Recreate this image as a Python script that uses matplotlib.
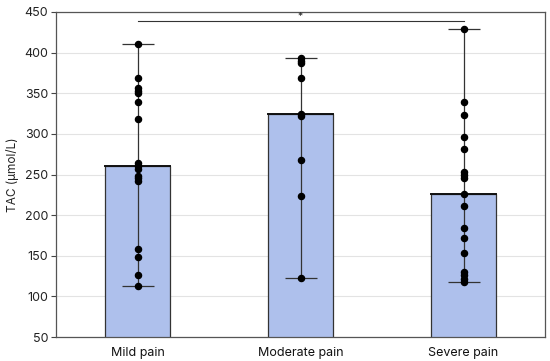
import matplotlib
matplotlib.use("Agg")
import matplotlib.pyplot as plt
import numpy as np

categories = ["Mild pain", "Moderate pain", "Severe pain"]
bar_heights = [261, 325, 226]
mild_points = [411, 369, 356, 353, 350.5, 339, 318, 264, 260, 256.5, 248, 245.5, 242, 158, 149, 126, 112.6]
moderate_points = [393, 390, 387, 369, 325, 322, 268, 224, 123]
severe_points = [429, 339, 323, 296, 282, 253, 249, 245.5, 226, 211.5, 184, 172, 153, 130, 126, 121.6, 117.5]
groups = [mild_points, moderate_points, severe_points]
y_ticks = [50, 100, 150, 200, 250, 300, 350, 400, 450]
sig_label = "*"

plt.rcParams['font.family'] = ['Inter', 'DejaVu Sans']

fig = plt.figure(figsize=(5.5, 3.61), dpi=100)
ax = fig.add_axes([56/550, 1-337/361, (545-56)/550, (337-12)/361])

x = np.arange(len(categories))
ax.bar(x, bar_heights, width=0.4, color="#aec0ec", edgecolor="#333333", linewidth=0.9, zorder=2)
for xi, h in zip(x, bar_heights):
    ax.plot([xi-0.2, xi+0.2], [h, h], color="#111111", lw=1.4, zorder=3)

for xi, pts in zip(x, groups):
    lo, hi = min(pts), max(pts)
    ax.errorbar([xi], [(lo+hi)/2], yerr=[[(hi-lo)/2], [(hi-lo)/2]], fmt="none",
                ecolor="#333333", elinewidth=0.9, capsize=11.5, capthick=0.9, zorder=4)
    ax.plot([xi]*len(pts), pts, "o", color="black", markersize=4.4, zorder=5)

ax.set_xlim(-0.5, 2.5)
ax.set_ylim(50, 450)
ax.set_yticks(y_ticks)
ax.set_xticks(x)
ax.set_xticklabels(categories, fontsize=9, color="#111111")
ax.tick_params(axis="x", length=0, pad=7)
ax.tick_params(axis="y", labelsize=9, length=3.5, width=0.8, color="#444444", labelcolor="#222222", pad=2)
ax.yaxis.grid(True, color="#e3e3e3", linewidth=0.8, zorder=0)
ax.set_axisbelow(True)
for s in ax.spines.values():
    s.set_color("#555555")
    s.set_linewidth(0.9)
ax.set_ylabel("TAC (μmol/L)", fontsize=8.5, color="#222222", labelpad=4)

# significance bracket
ax.plot([0, 2], [438.5, 438.5], color="#333333", lw=0.8, zorder=6, clip_on=False)
ax.text(1, 443.5, sig_label, ha="center", va="center", fontsize=7.5, color="#222222")

fig.savefig("out.png", dpi=100)
